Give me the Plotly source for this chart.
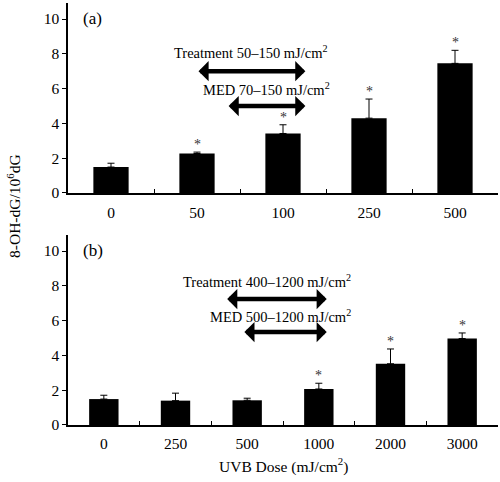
import plotly.graph_objects as go

# Panel (a)
doses_a = ["0", "50", "100", "250", "500"]
vals_a = [1.49, 2.27, 3.42, 4.3, 7.45]
err_a = [0.22, 0.08, 0.5, 1.1, 0.75]
sig_a = [False, True, True, True, True]

# Panel (b)
doses_b = ["0", "250", "500", "1000", "2000", "3000"]
vals_b = [1.49, 1.4, 1.42, 2.07, 3.52, 4.97]
err_b = [0.22, 0.43, 0.12, 0.33, 0.85, 0.32]
sig_b = [False, False, False, True, True, True]

y_ticks = [0, 2, 4, 6, 8, 10]

FONT = "Liberation Serif"

fig = go.Figure()
ann = []

def add_panel(doses, vals, errs, sig, xa, ya):
    fig.add_trace(go.Bar(
        x=doses, y=vals, width=0.41, marker=dict(color="black", line=dict(width=0)),
        error_y=dict(type="data", symmetric=False, array=errs, arrayminus=[0]*len(errs),
                     color="black", thickness=1, width=3.5),
        xaxis=xa, yaxis=ya, showlegend=False, hoverinfo="skip"))
    for i, (v, e, s) in enumerate(zip(vals, errs, sig)):
        if s:
            ann.append(dict(x=i, y=v + e, xref=xa, yref=ya, text="*", showarrow=False,
                            yanchor="bottom", xanchor="center", yshift=-2,
                            font=dict(family=FONT, size=14, color="#333333")))

add_panel(doses_a, vals_a, err_a, sig_a, "x", "y")
add_panel(doses_b, vals_b, err_b, sig_b, "x2", "y2")

axis_common = dict(showline=True, linecolor="black", linewidth=1.5, mirror=False,
                   showgrid=False, zeroline=False,
                   tickfont=dict(family=FONT, size=15.5, color="black"))

fig.update_layout(
    width=500, height=482,
    margin=dict(l=68, r=2, t=3, b=57),
    paper_bgcolor="white", plot_bgcolor="white",
    xaxis=dict(domain=[0, 1], anchor="y", type="category", ticks="inside", ticklen=4,
               range=[-0.5, len(doses_a) - 0.5], ticklabelstandoff=5,
               tickson="boundaries", tickcolor="black", **axis_common),
    yaxis=dict(domain=[0.5498, 1], anchor="x", range=[0, 10.92], tickvals=y_ticks,
               ticks="outside", ticklen=4, tickcolor="black", **axis_common),
    xaxis2=dict(domain=[0, 1], anchor="y2", type="category", ticks="inside", ticklen=4,
                range=[-0.5, len(doses_b) - 0.5], ticklabelstandoff=4,
                tickson="boundaries", tickcolor="black", **axis_common),
    yaxis2=dict(domain=[0, 0.4502], anchor="x2", range=[0, 10.92], tickvals=y_ticks,
                ticks="outside", ticklen=4, tickcolor="black", **axis_common),
)

def text(x, y, t, xref, yref, size=14.5, **kw):
    d = dict(x=x, y=y, text=t, xref=xref, yref=yref, showarrow=False,
             font=dict(family=FONT, size=size, color="black"))
    d.update(kw)
    ann.append(d)

def arrow(x0, x1, y, xref, yref):
    ann.append(dict(x=x1, y=y, ax=x0, ay=y, xref=xref, yref=yref, axref=xref, ayref=yref,
                    showarrow=True, arrowhead=1, arrowside="end+start", arrowwidth=4.5,
                    arrowsize=0.75, arrowcolor="black", standoff=0, startstandoff=0, text=""))

text(-0.22, 10.05, "(a)", "x", "y", size=17, xanchor="center")
text(1.63, 8.1, "Treatment 50\u2013150 mJ/cm<sup>2</sup>", "x", "y")
arrow(1.0, 2.26, 7.0, "x", "y")
text(1.81, 5.95, "MED 70\u2013150 mJ/cm<sup>2</sup>", "x", "y")
arrow(1.35, 2.26, 5.0, "x", "y")

text(-0.15, 10.05, "(b)", "x2", "y2", size=17, xanchor="center")
text(2.27, 8.3, "Treatment 400\u20131200 mJ/cm<sup>2</sup>", "x2", "y2")
arrow(1.70, 3.11, 7.24, "x2", "y2")
text(2.47, 6.25, "MED 500\u20131200 mJ/cm<sup>2</sup>", "x2", "y2")
arrow(1.94, 3.11, 5.34, "x2", "y2")

ann.append(dict(x=-0.127, y=0.52, xref="paper", yref="paper", text="8-OH-dG/10<sup>6</sup>dG",
                showarrow=False, textangle=-90, xanchor="center", yanchor="middle",
                font=dict(family=FONT, size=15.5, color="black")))
ann.append(dict(x=0.5, y=-0.097, xref="paper", yref="paper", text="UVB Dose (mJ/cm<sup>2</sup>)",
                showarrow=False, xanchor="center", yanchor="middle",
                font=dict(family=FONT, size=15.5, color="black")))

fig.update_layout(annotations=ann)

fig.write_html("out.html", config={"displayModeBar": False},
               post_script="document.body.style.margin='0';")
